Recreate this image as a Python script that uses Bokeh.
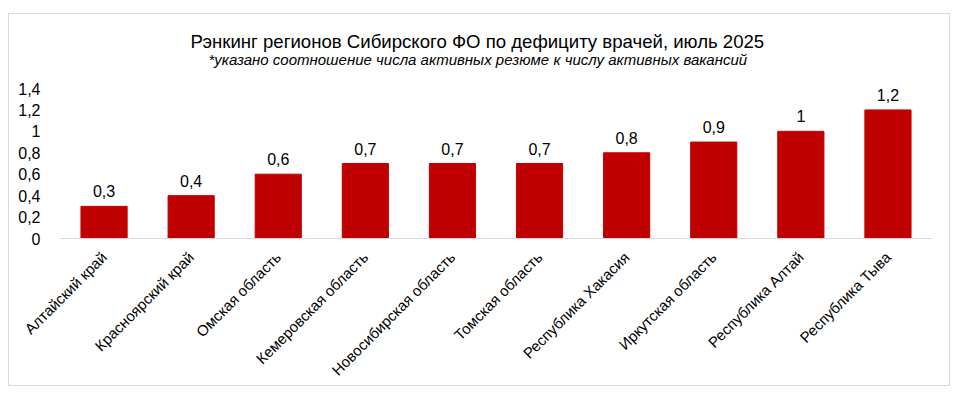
from bokeh.plotting import figure
from bokeh.models import ColumnDataSource, FixedTicker, CustomJSTickFormatter, Title
from bokeh.core.properties import value
from bokeh.embed import file_html
from bokeh.resources import INLINE
from math import pi

regions = ["Алтайский край", "Красноярский край", "Омская область", "Кемеровская область",
           "Новосибирская область", "Томская область", "Республика Хакасия",
           "Иркутская область", "Республика Алтай", "Республика Тыва"]
values = [0.3, 0.4, 0.6, 0.7, 0.7, 0.7, 0.8, 0.9, 1.0, 1.2]
y_ticks = [0, 0.2, 0.4, 0.6, 0.8, 1.0, 1.2, 1.4]
title_text = "Рэнкинг регионов Сибирского ФО по дефициту врачей, июль 2025"
subtitle_text = "*указано соотношение  числа активных резюме к числу активных вакансий"

def fmt(v):
    s = ("%.1f" % v).replace(".", ",")
    return s[:-2] if s.endswith(",0") else s

src = ColumnDataSource(dict(x=regions, y=values, lbl=[fmt(v) for v in values]))

FONT = "Liberation Sans"
W, H = 942, 373
p = figure(x_range=regions, y_range=(0, 1.4), width=W, height=H,
           output_backend="svg", toolbar_location=None)
p.title_location = None
p.styles = {"border": "1px solid #d9d9d9", "margin-top": "13px", "margin-left": "8px"}
p.min_border_left = 51
p.min_border_right = 20
p.min_border_top = 74
p.min_border_bottom = 149
p.outline_line_color = None
p.xgrid.grid_line_color = None
p.ygrid.grid_line_color = None

p.vbar(x="x", top="y", width=0.53, source=src, color="#c00000")
p.text(x="x", y="y", text="lbl", source=src, text_align="center", text_baseline="bottom",
       y_offset=-9, text_font=value(FONT), text_font_size="16px", text_color="#000000")

p.xaxis.axis_line_color = "#d9d9d9"
p.xaxis.major_tick_line_color = None
p.xaxis.minor_tick_line_color = None
p.xaxis.major_label_orientation = pi / 4
p.xaxis.major_label_text_font = FONT
p.xaxis.major_label_text_font_size = "15px"
p.xaxis.major_label_text_color = "#000000"
p.xaxis.major_label_standoff = 10

p.yaxis.axis_line_color = None
p.yaxis.major_tick_line_color = None
p.yaxis.minor_tick_line_color = None
p.yaxis.ticker = FixedTicker(ticks=y_ticks)
p.yaxis.formatter = CustomJSTickFormatter(code="return tick.toFixed(1).replace('.', ',').replace(/,0$/, '');")
p.yaxis.major_label_text_font = FONT
p.yaxis.major_label_text_font_size = "16px"
p.yaxis.major_label_text_color = "#000000"
p.yaxis.major_label_standoff = 14

# spacer between frame and subtitle
p.add_layout(Title(text=" ", standoff=18, text_font_size="1px"), "above")
p.add_layout(Title(text=subtitle_text, align="left", offset=148, standoff=0,
                   text_font=FONT, text_font_style="italic", text_font_size="15px",
                   text_color="#000000"), "above")
p.add_layout(Title(text=title_text, align="left", offset=130, standoff=-6,
                   text_font=FONT, text_font_style="normal", text_font_size="18.6px",
                   text_color="#000000"), "above")

open("out.html", "w").write(file_html(p, INLINE))
